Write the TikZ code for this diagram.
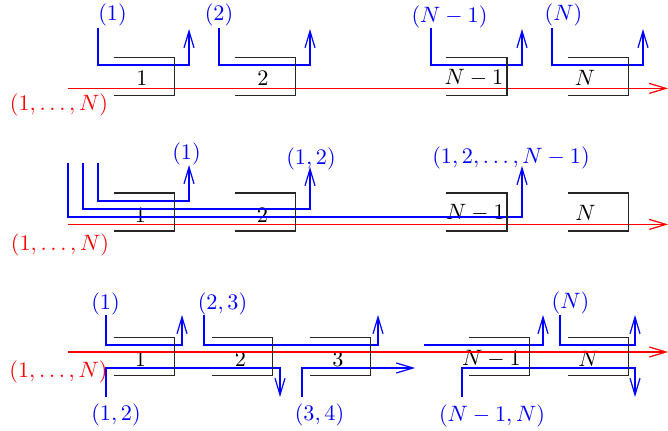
\documentclass[tikz,border=0pt]{standalone}
\usetikzlibrary{arrows.meta}

\begin{document}
\begin{tikzpicture}[
  x=0.45pt, y=-0.45pt,
  box/.style={minimum width=27pt, minimum height=16.65pt, inner sep=0pt},
  num/.style={inner sep=0pt},
  tag/.style={inner sep=0pt, text=blue},
  alltag/.style={inner sep=0pt, text=red},
  flow/.style={blue, line width=0.55pt, -{Straight Barb[length=7.5pt,width=4.5pt]}},
  bus/.style={red, line width=0.55pt, -{Straight Barb[length=7.5pt,width=4.5pt]}},
  wall/.style={black!85, line width=0.6pt}
]
  \useasboundingbox (0,0) rectangle (668,431);

  % first row: each block on its own
  \node[box] (a1) at (144,76.5) {};
  \node[box] (a2) at (265,76.5) {};
  \node[box] (a3) at (476.5,76.5) {};
  \node[box] (a4) at (598,76.5) {};
  \node[num] (na1) at (142,78.5) {$1$};
  \node[num] (na2) at (263,78.5) {$2$};
  \node[num] (na3) at (474,78) {$N-1$};
  \node[num] (na4) at (585,78) {$N$};

  \coordinate (bus1s) at (68,88.4);
  \coordinate (bus1e) at (668,88.4);
  \draw[bus] (bus1s) -- (bus1e);
  \node[alltag] (all1) at (59,105) {$(1,\ldots,N)$};

  \node[tag] (ta1) at (112.5,15) {$(1)$};
  \node[tag] (ta2) at (219,15) {$(2)$};
  \node[tag] (ta3) at (449.5,17) {$(N-1)$};
  \node[tag] (ta4) at (563.5,15) {$(N)$};
  \coordinate (sa1) at (98,28);  \coordinate (ea1) at (189,29);
  \coordinate (sa2) at (219,28); \coordinate (ea2) at (310,29);
  \coordinate (sa3) at (431,28); \coordinate (ea3) at (522,29);
  \coordinate (sa4) at (552,28); \coordinate (ea4) at (643,29);
  \draw[flow] (sa1) -- ++(0,37) -| (ea1);
  \draw[flow] (sa2) -- ++(0,37) -| (ea2);
  \draw[flow] (sa3) -- ++(0,37) -| (ea3);
  \draw[flow] (sa4) -- ++(0,37) -| (ea4);

  % second row: growing groups
  \node[box] (b1) at (144,212) {};
  \node[box] (b2) at (265,212) {};
  \node[box] (b3) at (476.5,212) {};
  \node[box] (b4) at (598,212) {};
  \node[num] (nb1) at (140.5,215) {$1$};
  \node[num] (nb2) at (262.5,215) {$2$};
  \node[num] (nb3) at (475.5,213) {$N-1$};
  \node[num] (nb4) at (585.5,213) {$N$};

  \coordinate (bus2s) at (68,224.4);
  \coordinate (bus2e) at (668,224.4);
  \draw[bus] (bus2s) -- (bus2e);
  \node[alltag] (all2) at (60,245) {$(1,\ldots,N)$};

  \node[tag] (tb1) at (186.5,154) {$(1)$};
  \node[tag] (tb2) at (311,159) {$(1,2)$};
  \node[tag] (tb3) at (511,158) {$(1,2,\ldots,N-1)$};
  \coordinate (sb1) at (98,163); \coordinate (eb1) at (189,165);
  \coordinate (sb2) at (83,163); \coordinate (eb2) at (310,167);
  \coordinate (sb3) at (68,163); \coordinate (eb3) at (522,166);
  \draw[flow] (sb1) -- ++(0,38) -| (eb1);
  \draw[flow] (sb2) -- ++(0,46) -| (eb2);
  \draw[flow] (sb3) -- ++(0,54) -| (eb3);

  % third row: neighbouring pairs
  \node[box] (c1) at (144,356.5) {};
  \node[box] (c2) at (242,356.5) {};
  \node[box] (c3) at (340,356.5) {};
  \node[box] (c4) at (499,356.5) {};
  \node[box] (c5) at (598,356.5) {};
  \node[num] (nc1) at (140.5,359.5) {$1$};
  \node[num] (nc2) at (240.5,359.5) {$2$};
  \node[num] (nc3) at (338,359.5) {$3$};
  \node[num] (nc4) at (491.5,359) {$N-1$};
  \node[num] (nc5) at (588.5,359) {$N$};

  \coordinate (bus3s) at (68,352);
  \coordinate (bus3e) at (668,352);
  \draw[bus] (bus3s) -- (bus3e);
  \node[alltag] (all3) at (58.5,371.5) {$(1,\ldots,N)$};

  \node[tag] (tc1) at (105.5,304) {$(1)$};
  \node[tag] (tc2) at (222.5,304) {$(2,3)$};
  \node[tag] (tc4) at (570.5,303) {$(N)$};
  \node[tag] (tc5) at (116,415) {$(1,2)$};
  \node[tag] (tc6) at (319.5,415) {$(3,4)$};
  \node[tag] (tc7) at (492,416) {$(N-1,N)$};
  \coordinate (sc1) at (106,315); \coordinate (ec1) at (182,315);
  \coordinate (sc2) at (204,315); \coordinate (ec2) at (378,315);
  \coordinate (sc3) at (424,345); \coordinate (ec3) at (543,315);
  \coordinate (sc4) at (560,315); \coordinate (ec4) at (635,315);
  \coordinate (sc5) at (106,397); \coordinate (ec5) at (280,397);
  \coordinate (sc6) at (302,397); \coordinate (ec6) at (415,368);
  \coordinate (sc7) at (462,397); \coordinate (ec7) at (635,397);
  \draw[flow] (sc1) -- ++(0,30) -| (ec1);
  \draw[flow] (sc2) -- ++(0,30) -| (ec2);
  \draw[flow] (sc3) -| (ec3);
  \draw[flow] (sc4) -- ++(0,30) -| (ec4);
  \draw[flow] (sc5) -- ++(0,-29) -| (ec5);
  \draw[flow] (sc6) |- (ec6);
  \draw[flow] (sc7) -- ++(0,-29) -| (ec7);

  % the open blocks
  \foreach \b in {a1,a2,a3,a4,b1,b2,b3,b4,c1,c2,c3,c4,c5}
    \draw[wall] (\b.north west) -- (\b.north east) -- (\b.south east) -- (\b.south west);
\end{tikzpicture}
\end{document}
